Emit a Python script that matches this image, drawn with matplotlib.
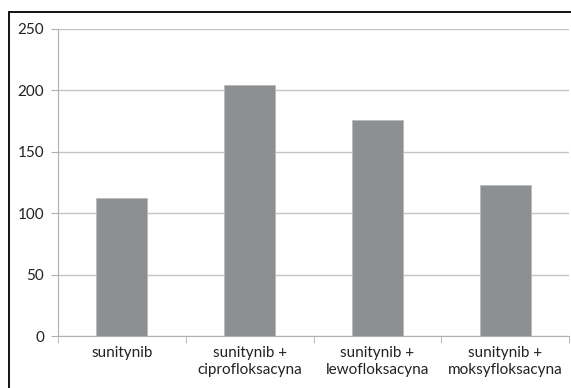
import matplotlib
matplotlib.use('Agg')
import matplotlib.pyplot as plt
import numpy as np
from matplotlib.patches import Rectangle

plt.rcParams['font.family'] = ['Lato', 'DejaVu Sans']

categories = ['sunitynib', 'sunitynib +\nciprofloksacyna',
              'sunitynib +\nlewofloksacyna', 'sunitynib +\nmoksyfloksacyna']
values = [112, 204, 176, 123]
yticks = [0, 50, 100, 150, 200, 250]

fig = plt.figure(figsize=(5.71, 3.88), dpi=100)
ax = fig.add_axes([58/571, 1-336/388, 511/571, 307/388])

x = np.arange(len(categories))
ax.bar(x, values, width=0.4, color='#8e8f91', edgecolor='#b8b9bb', linewidth=0.6, zorder=3)

ax.set_xlim(-0.5, len(categories) - 0.5)
ax.set_ylim(0, 250)
ax.set_yticks(yticks)
ax.yaxis.grid(True, color='#c4c4c4', linewidth=1.0, zorder=0)

ax.set_xticks(x)
ax.set_xticklabels(categories, fontsize=11, linespacing=1.3, color='#222222')
ax.set_xticks(np.arange(-0.5, len(categories)), minor=True)
ax.tick_params(axis='x', which='major', length=0, pad=7)
ax.tick_params(axis='x', which='minor', length=5, color='#b0b0b0', direction='out')
ax.tick_params(axis='y', length=5, color='#b0b0b0', labelsize=11, labelcolor='#222222', pad=5)

for side in ['top', 'right']:
    ax.spines[side].set_visible(False)
ax.spines['left'].set_color('#b0b0b0')
ax.spines['bottom'].set_color('#b0b0b0')

# outer frame around the chart
fig.patches.append(Rectangle((9/571, -0.1), 1.2, 1 - 12/388 + 0.1,
                             transform=fig.transFigure, fill=False,
                             edgecolor='black', linewidth=1.3))

fig.savefig('out.png', dpi=100)
